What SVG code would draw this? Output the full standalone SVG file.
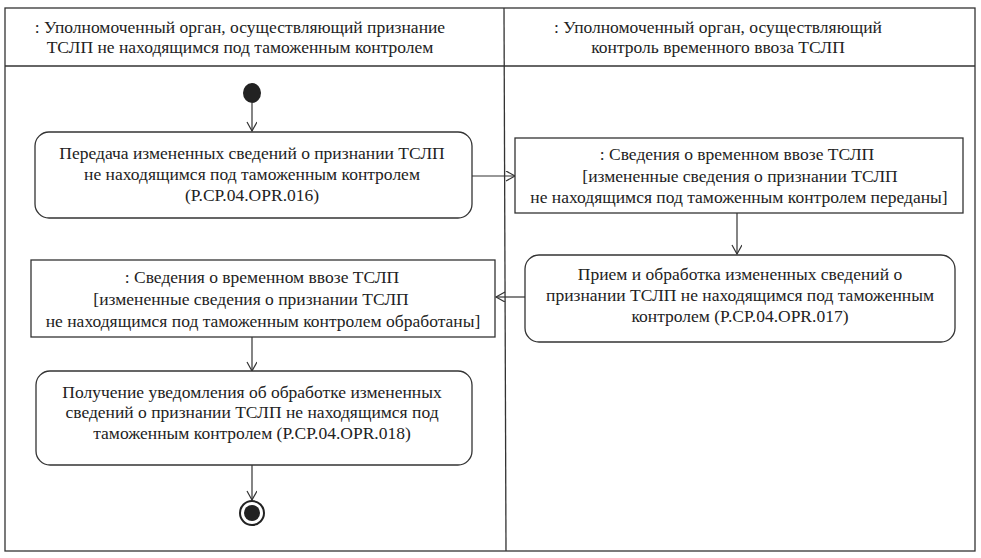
<svg xmlns="http://www.w3.org/2000/svg" width="981" height="558" viewBox="0 0 981 558">
<defs>
<style>
.frame{fill:none;stroke:#333;stroke-width:1.3}
.act{fill:#fff;stroke:#333;stroke-width:1.3}
.obj{fill:#fff;stroke:#333;stroke-width:1.3}
.hdr{font-family:"Liberation Serif","Liberation Sans",serif;font-size:17.5px;fill:#222;text-anchor:middle}
.t{font-family:"Liberation Serif","Liberation Sans",serif;font-size:17.5px;fill:#222;text-anchor:middle}
.c{fill:none;stroke:#333;stroke-width:1.2}
</style>
<marker id="arr" markerWidth="12" markerHeight="12" refX="10" refY="5" orient="auto" markerUnits="userSpaceOnUse">
<path d="M1,0 L10,5 L1,10" fill="none" stroke="#333" stroke-width="1.2"/>
</marker>
</defs>
<rect width="981" height="558" fill="#fff"/>
<g id="swimlanes">
<rect class="frame" x="5" y="8" width="970" height="543"/>
<line class="frame" x1="5" y1="66" x2="975" y2="66"/>
<line class="frame" x1="504" y1="8" x2="506" y2="551"/>
<text class="hdr" x="240" y="33">: Уполномоченный орган, осуществляющий признание</text>
<text class="hdr" x="240" y="53">ТСЛП не находящимся под таможенным контролем</text>
<text class="hdr" x="718" y="33">: Уполномоченный орган, осуществляющий</text>
<text class="hdr" x="718" y="53">контроль временного ввоза ТСЛП</text>
</g>
<g id="connectors">
<line class="c" x1="252" y1="103" x2="252" y2="131" marker-end="url(#arr)"/>
<line class="c" x1="472" y1="176" x2="515" y2="176" marker-end="url(#arr)"/>
<line class="c" x1="737" y1="213" x2="737" y2="254" marker-end="url(#arr)"/>
<line class="c" x1="525" y1="297" x2="496" y2="297" marker-end="url(#arr)"/>
<line class="c" x1="252" y1="337" x2="252" y2="371" marker-end="url(#arr)"/>
<line class="c" x1="252" y1="465" x2="252" y2="500" marker-end="url(#arr)"/>
</g>
<g id="start">
<ellipse cx="252" cy="93" rx="9" ry="10" fill="#222"/>
</g>
<g id="act1">
<rect class="act" x="35" y="132" width="437" height="86" rx="14"/>
<text class="t" x="252" y="159">Передача измененных сведений о признании ТСЛП</text>
<text class="t" x="252" y="180">не находящимся под таможенным контролем</text>
<text class="t" x="252" y="201">(P.CP.04.OPR.016)</text>
</g>
<g id="obj1">
<rect class="obj" x="515" y="138" width="448" height="75"/>
<text class="t" x="737" y="160">: Сведения о временном ввозе ТСЛП</text>
<text class="t" x="740" y="182">[измененные сведения о признании ТСЛП</text>
<text class="t" x="739" y="203">не находящимся под таможенным контролем переданы]</text>
</g>
<g id="act2">
<rect class="act" x="525" y="255" width="430" height="87" rx="14"/>
<text class="t" x="740" y="280">Прием и обработка измененных сведений о</text>
<text class="t" x="740" y="301">признании ТСЛП не находящимся под таможенным</text>
<text class="t" x="740" y="322">контролем (P.CP.04.OPR.017)</text>
</g>
<g id="obj2">
<rect class="obj" x="31" y="260" width="464" height="77"/>
<text class="t" x="262" y="283">: Сведения о временном ввозе ТСЛП</text>
<text class="t" x="251" y="305">[измененные сведения о признании ТСЛП</text>
<text class="t" x="263" y="327">не находящимся под таможенным контролем обработаны]</text>
</g>
<g id="act3">
<rect class="act" x="36" y="371" width="436" height="94" rx="14"/>
<text class="t" x="252" y="398">Получение уведомления об обработке измененных</text>
<text class="t" x="252" y="418">сведений о признании ТСЛП не находящимся под</text>
<text class="t" x="252" y="439">таможенным контролем (P.CP.04.OPR.018)</text>
</g>
<g id="end">
<circle cx="252" cy="513" r="12" fill="#fff" stroke="#222" stroke-width="2"/>
<circle cx="252" cy="513" r="8" fill="#222"/>
</g>
</svg>
